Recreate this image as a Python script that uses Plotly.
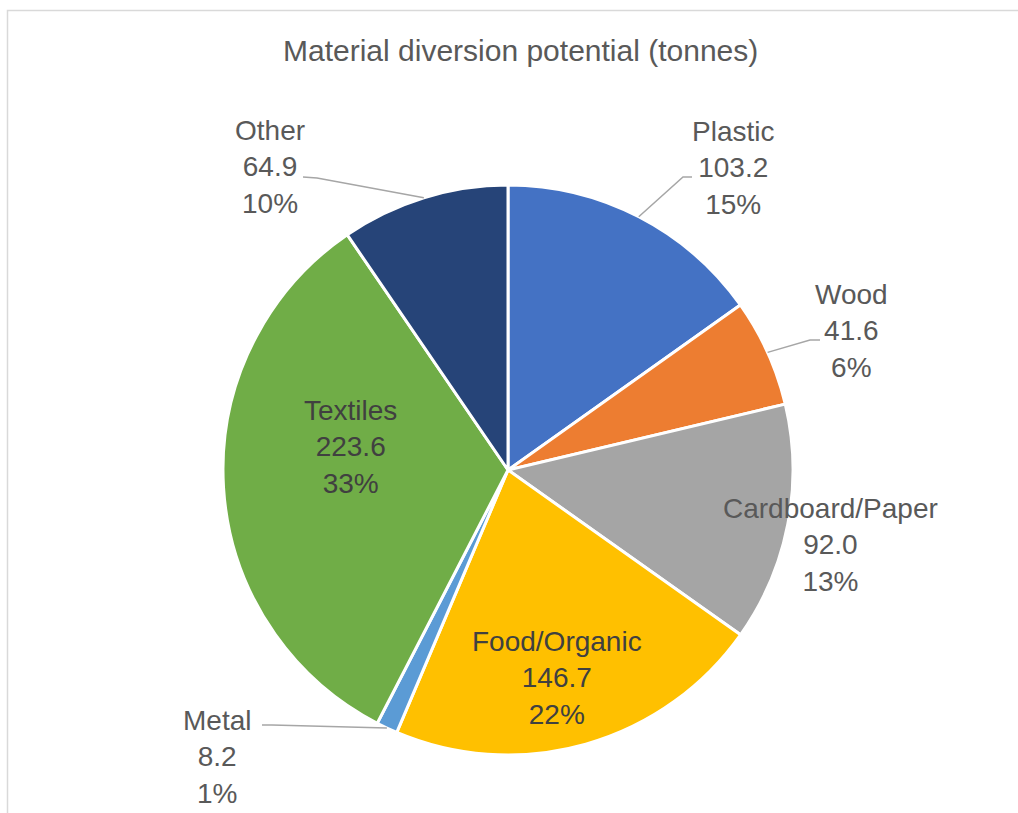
import math
import plotly.graph_objects as go

# ---- data ----
categories = ["Plastic", "Wood", "Cardboard/Paper", "Food/Organic", "Metal", "Textiles", "Other"]
values = [103.2, 41.6, 92.0, 146.7, 8.2, 223.6, 64.9]
percent_labels = ["15%", "6%", "13%", "22%", "1%", "33%", "10%"]
colors = ["#4472C4", "#ED7D31", "#A5A5A5", "#FFC000", "#5B9BD5", "#70AD47", "#264478"]

# ---- layout / style ----
W, H = 1018, 813
CX, CY, R = 508, 470, 285  # pie centre and radius in pixels
FONT = "Liberation Sans"
OUT_COLOR = "#595959"
IN_COLOR = "#404040"

# label block centres (pixels)
label_pos = {
    "Plastic": (733, 168),
    "Wood": (851, 331),
    "Cardboard/Paper": (830, 545),
    "Food/Organic": (557, 678),
    "Metal": (217, 757),
    "Textiles": (350, 447),
    "Other": (270, 167),
}
label_color = {
    "Textiles": IN_COLOR, "Food/Organic": IN_COLOR,
}
# leader line: (elbow point, end point) in pixels
leaders = {
    "Plastic": ((683, 177), (692, 177)),
    "Wood": ((810, 340), (820, 340)),
    "Other": ((317, 178), (303, 177)),
    "Metal": ((272, 725), (262, 725)),
}


def px(x):
    return x / W


def py(y):
    return 1 - y / H


fig = go.Figure()
fig.add_trace(go.Pie(
    labels=categories,
    values=values,
    sort=False,
    direction="clockwise",
    rotation=0,
    marker=dict(colors=colors, line=dict(color="white", width=3)),
    textinfo="none",
    hoverinfo="label+value+percent",
    showlegend=False,
    domain=dict(x=[px(CX - R), px(CX + R)], y=[py(CY + R), py(CY - R)]),
))

annotations = []
shapes = []
total = sum(values)
cum = 0.0
for cat, val, pct in zip(categories, values, percent_labels):
    mid = (cum + val / 2) / total * 2 * math.pi
    cum += val
    lx, ly = label_pos[cat]
    annotations.append(dict(
        x=px(lx), y=py(ly), xref="paper", yref="paper",
        text=f"{cat}<br>{val:.1f}<br>{pct}",
        showarrow=False, xanchor="center", yanchor="middle", align="center",
        font=dict(family=FONT, size=28, color=label_color.get(cat, OUT_COLOR)),
    ))
    if cat in leaders:
        ex = CX + R * math.sin(mid)
        ey = CY - R * math.cos(mid)
        (bx, by), (tx, ty) = leaders[cat]
        path = f"M {px(ex)},{py(ey)} L {px(bx)},{py(by)} L {px(tx)},{py(ty)}"
        shapes.append(dict(type="path", xref="paper", yref="paper", path=path,
                           line=dict(color="#A6A6A6", width=1.5)))

# chart-area border
shapes.append(dict(type="rect", xref="paper", yref="paper",
                   x0=px(7.5), x1=1.02, y0=-0.02, y1=py(10.5),
                   line=dict(color="#D9D9D9", width=1.5), layer="below"))

annotations.append(dict(
    x=px(520), y=py(50), xref="paper", yref="paper",
    text="Material diversion potential (tonnes)", showarrow=False,
    xanchor="center", yanchor="middle",
    font=dict(family=FONT, size=30, color=OUT_COLOR),
))

fig.update_layout(
    width=W, height=H,
    margin=dict(l=0, r=0, t=0, b=0),
    paper_bgcolor="white", plot_bgcolor="white",
    annotations=annotations, shapes=shapes,
)
fig.write_html("out.html", config={"displayModeBar": False},
               post_script="document.body.style.margin='0';")
